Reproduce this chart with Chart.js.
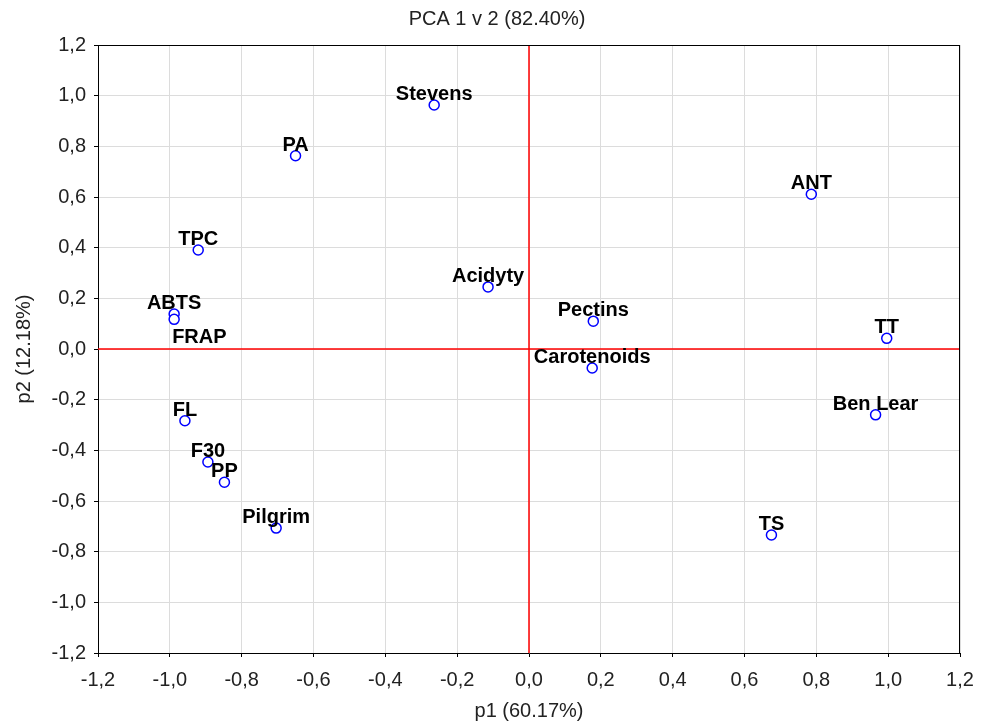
<!DOCTYPE html>
<html>
<head>
<meta charset="utf-8">
<script src="https://cdn.jsdelivr.net/npm/chart.js@4"></script>
<style>
html,body{margin:0;padding:0;background:#fff;}
#wrap{width:986px;height:724px;}
</style>
</head>
<body>
<div id="wrap"><canvas id="c" width="986" height="724"></canvas></div>
<script>
const names = ['Stevens','PA','ANT','TPC','Acidyty','Pectins','TT','ABTS','FRAP','Carotenoids','Ben Lear','FL','F30','PP','Pilgrim','TS'];
const p1 = [-0.264,-0.650,0.786,-0.921,-0.114,0.179,0.996,-0.988,-0.988,0.176,0.965,-0.958,-0.894,-0.848,-0.704,0.675];
const p2 = [0.963,0.763,0.611,0.391,0.245,0.110,0.042,0.138,0.117,-0.075,-0.260,-0.283,-0.446,-0.526,-0.707,-0.734];
const axisMin = -1.2, axisMax = 1.2, axisStep = 0.2;
const chartTitle = 'PCA 1 v 2 (82.40%)';
const xTitle = 'p1 (60.17%)';
const yTitle = 'p2 (12.18%)';

const points = names.map((n,i)=>({x:p1[i], y:p2[i]}));
const FONT = "'Liberation Sans', Arial, sans-serif";
// label placement (style): default centered above point; FRAP below-right
const labelStyle = { 'FRAP': {align:'left', dx:-2, dy:24} };

const labelPlugin = {
  id:'pointLabels',
  afterDatasetsDraw(chart){
    const ctx = chart.ctx;
    const meta = chart.getDatasetMeta(0);
    ctx.save();
    ctx.font = "bold 20px " + FONT;
    ctx.fillStyle = '#000';
    ctx.textBaseline = 'alphabetic';
    meta.data.forEach((el,i)=>{
      const s = labelStyle[names[i]] || {align:'center', dx:0, dy:-5};
      ctx.textAlign = s.align;
      ctx.fillText(names[i], el.x + s.dx, el.y + s.dy);
    });
    ctx.restore();
  }
};
const zeroPlugin = {
  id:'zeroLines',
  beforeDatasetsDraw(chart){
    const a = chart.chartArea, ctx = chart.ctx;
    const x0 = chart.scales.x.getPixelForValue(0);
    const y0 = chart.scales.y.getPixelForValue(0);
    ctx.save();
    ctx.strokeStyle = '#ff0000';
    ctx.lineWidth = 1.5;
    ctx.beginPath();
    ctx.moveTo(x0, a.top); ctx.lineTo(x0, a.bottom);
    ctx.moveTo(a.left, y0); ctx.lineTo(a.right, y0);
    ctx.stroke();
    ctx.restore();
  }
};
const framePlugin = {
  id:'frame',
  afterDraw(chart){
    const a = chart.chartArea, ctx = chart.ctx;
    ctx.save();
    ctx.strokeStyle = '#000';
    ctx.lineWidth = 1;
    ctx.beginPath();
    ctx.moveTo(a.left, a.top+0.5); ctx.lineTo(a.right, a.top+0.5);
    ctx.moveTo(a.right-0.5, a.top); ctx.lineTo(a.right-0.5, a.bottom);
    ctx.stroke();
    ctx.font = "20px " + FONT;
    ctx.fillStyle = '#222';
    ctx.textAlign = 'center';
    ctx.textBaseline = 'middle';
    ctx.fillText(chartTitle, 497, 19);
    ctx.restore();
  }
};

const fmt = (v)=> (Math.abs(v)<1e-9?0:v).toFixed(1).replace('.', ',');

new Chart(document.getElementById('c'), {
  type:'scatter',
  data:{ datasets:[{
    data: points,
    pointRadius: 5,
    pointHoverRadius: 5,
    pointBackgroundColor:'#ffffff',
    pointBorderColor:'#0000ff',
    pointBorderWidth:1.5
  }]},
  options:{
    responsive:false,
    animation:false,
    layout:{padding:{left:0,right:26,top:45,bottom:0}},
    plugins:{
      legend:{display:false},
      tooltip:{enabled:false},
      title:{display:false}
    },
    scales:{
      x:{
        type:'linear', min:axisMin, max:axisMax,
        afterFit(s){ s.height = 71; },
        ticks:{stepSize:axisStep, callback:fmt, color:'#222', font:{family:FONT,size:20}, padding:11, maxRotation:0},
        grid:{color:'#dcdcdc', lineWidth:1, tickColor:'#000', tickLength:4},
        border:{display:true, color:'#000', width:1},
        title:{display:true, text:xTitle, color:'#222', font:{family:FONT,size:20}, padding:{top:0,bottom:1}}
      },
      y:{
        type:'linear', min:axisMin, max:axisMax,
        afterFit(s){ s.width = 98; },
        ticks:{stepSize:axisStep, callback:fmt, color:'#222', font:{family:FONT,size:20}, padding:8},
        grid:{color:'#dcdcdc', lineWidth:1, tickColor:'#000', tickLength:4},
        border:{display:true, color:'#000', width:1},
        title:{display:true, text:yTitle, color:'#222', font:{family:FONT,size:20}, padding:{top:12,bottom:0}}
      }
    }
  },
  plugins:[zeroPlugin, labelPlugin, framePlugin]
});
</script>
</body>
</html>
